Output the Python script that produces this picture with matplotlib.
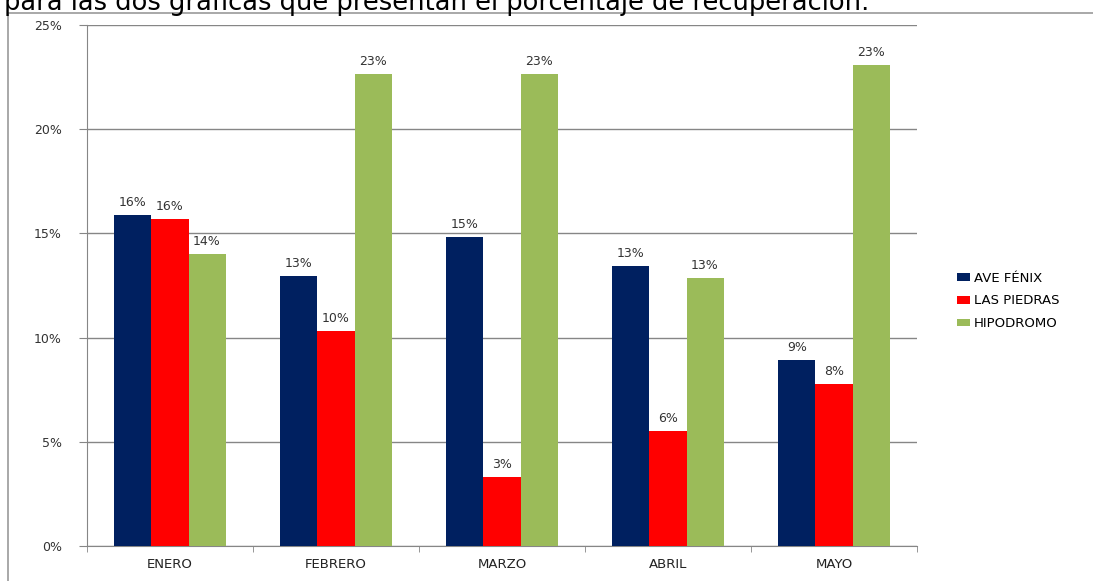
import matplotlib
matplotlib.use("Agg")
import matplotlib.pyplot as plt
import numpy as np
from matplotlib.lines import Line2D

meses = ["ENERO", "FEBRERO", "MARZO", "ABRIL", "MAYO"]
ave_fenix = [15.88, 12.96, 14.83, 13.44, 8.93]
las_piedras = [15.69, 10.32, 3.31, 5.52, 7.77]
hipodromo = [14.01, 22.65, 22.65, 12.86, 23.08]

series = [("AVE FÉNIX", ave_fenix, "#002060"),
          ("LAS PIEDRAS", las_piedras, "#FF0000"),
          ("HIPODROMO", hipodromo, "#9BBB59")]

fig = plt.figure(figsize=(10.93, 5.81), dpi=100)
ax = fig.add_axes([87 / 1093, 1 - 546 / 581, 830 / 1093, 521 / 581])

x = np.arange(len(meses))
w = 0.223
for i, (nombre, vals, col) in enumerate(series):
    pos = x + (i - 1) * w
    bars = ax.bar(pos, vals, width=w, color=col, label=nombre, zorder=3)
    for b, v in zip(bars, vals):
        ax.text(b.get_x() + b.get_width() / 2, v + 0.3, "%d%%" % round(v),
                ha="center", va="bottom", fontsize=9, color="#333333", zorder=4)

ax.set_xlim(-0.5, 4.5)
ax.set_ylim(0, 25)
ax.set_yticks(range(0, 26, 5))
ax.set_yticklabels(["%d%%" % t for t in range(0, 26, 5)], fontsize=9, color="#333333")
ax.set_xticks(x)
ax.set_xticklabels(meses, fontsize=9.5, color="#222222")
ax.set_xticks(np.arange(-0.5, 5, 1), minor=True)
ax.tick_params(axis="x", which="major", length=0, pad=9)
ax.tick_params(axis="x", which="minor", length=4, color="#868686", direction="out")
ax.tick_params(axis="y", length=6, color="#868686", pad=12)
ax.grid(axis="y", color="#868686", linewidth=1, zorder=0)
for s in ["top", "right"]:
    ax.spines[s].set_visible(False)
for s in ["left", "bottom"]:
    ax.spines[s].set_color("#868686")

ax.legend(loc="center left", bbox_to_anchor=(945 / 1093, 1 - 301 / 581),
          bbox_transform=fig.transFigure, frameon=False, fontsize=9.5,
          handlelength=1.0, handleheight=0.5, handletextpad=0.3, labelspacing=0.75)

# marco exterior y texto recortado del documento
fig.add_artist(Line2D([8 / 1093, 8 / 1093], [0, 1 - 13 / 581], color="#999999", lw=1.2,
                      transform=fig.transFigure))
fig.add_artist(Line2D([8 / 1093, 1], [1 - 13 / 581, 1 - 13 / 581], color="#999999", lw=1.2,
                      transform=fig.transFigure))
fig.text(4 / 1093, 1 - 9.5 / 581, "para las dos gráficas que presentan el porcentaje de recuperación.",
         fontsize=18.5, va="baseline", ha="left", color="black")

fig.savefig("out.png", dpi=100)
